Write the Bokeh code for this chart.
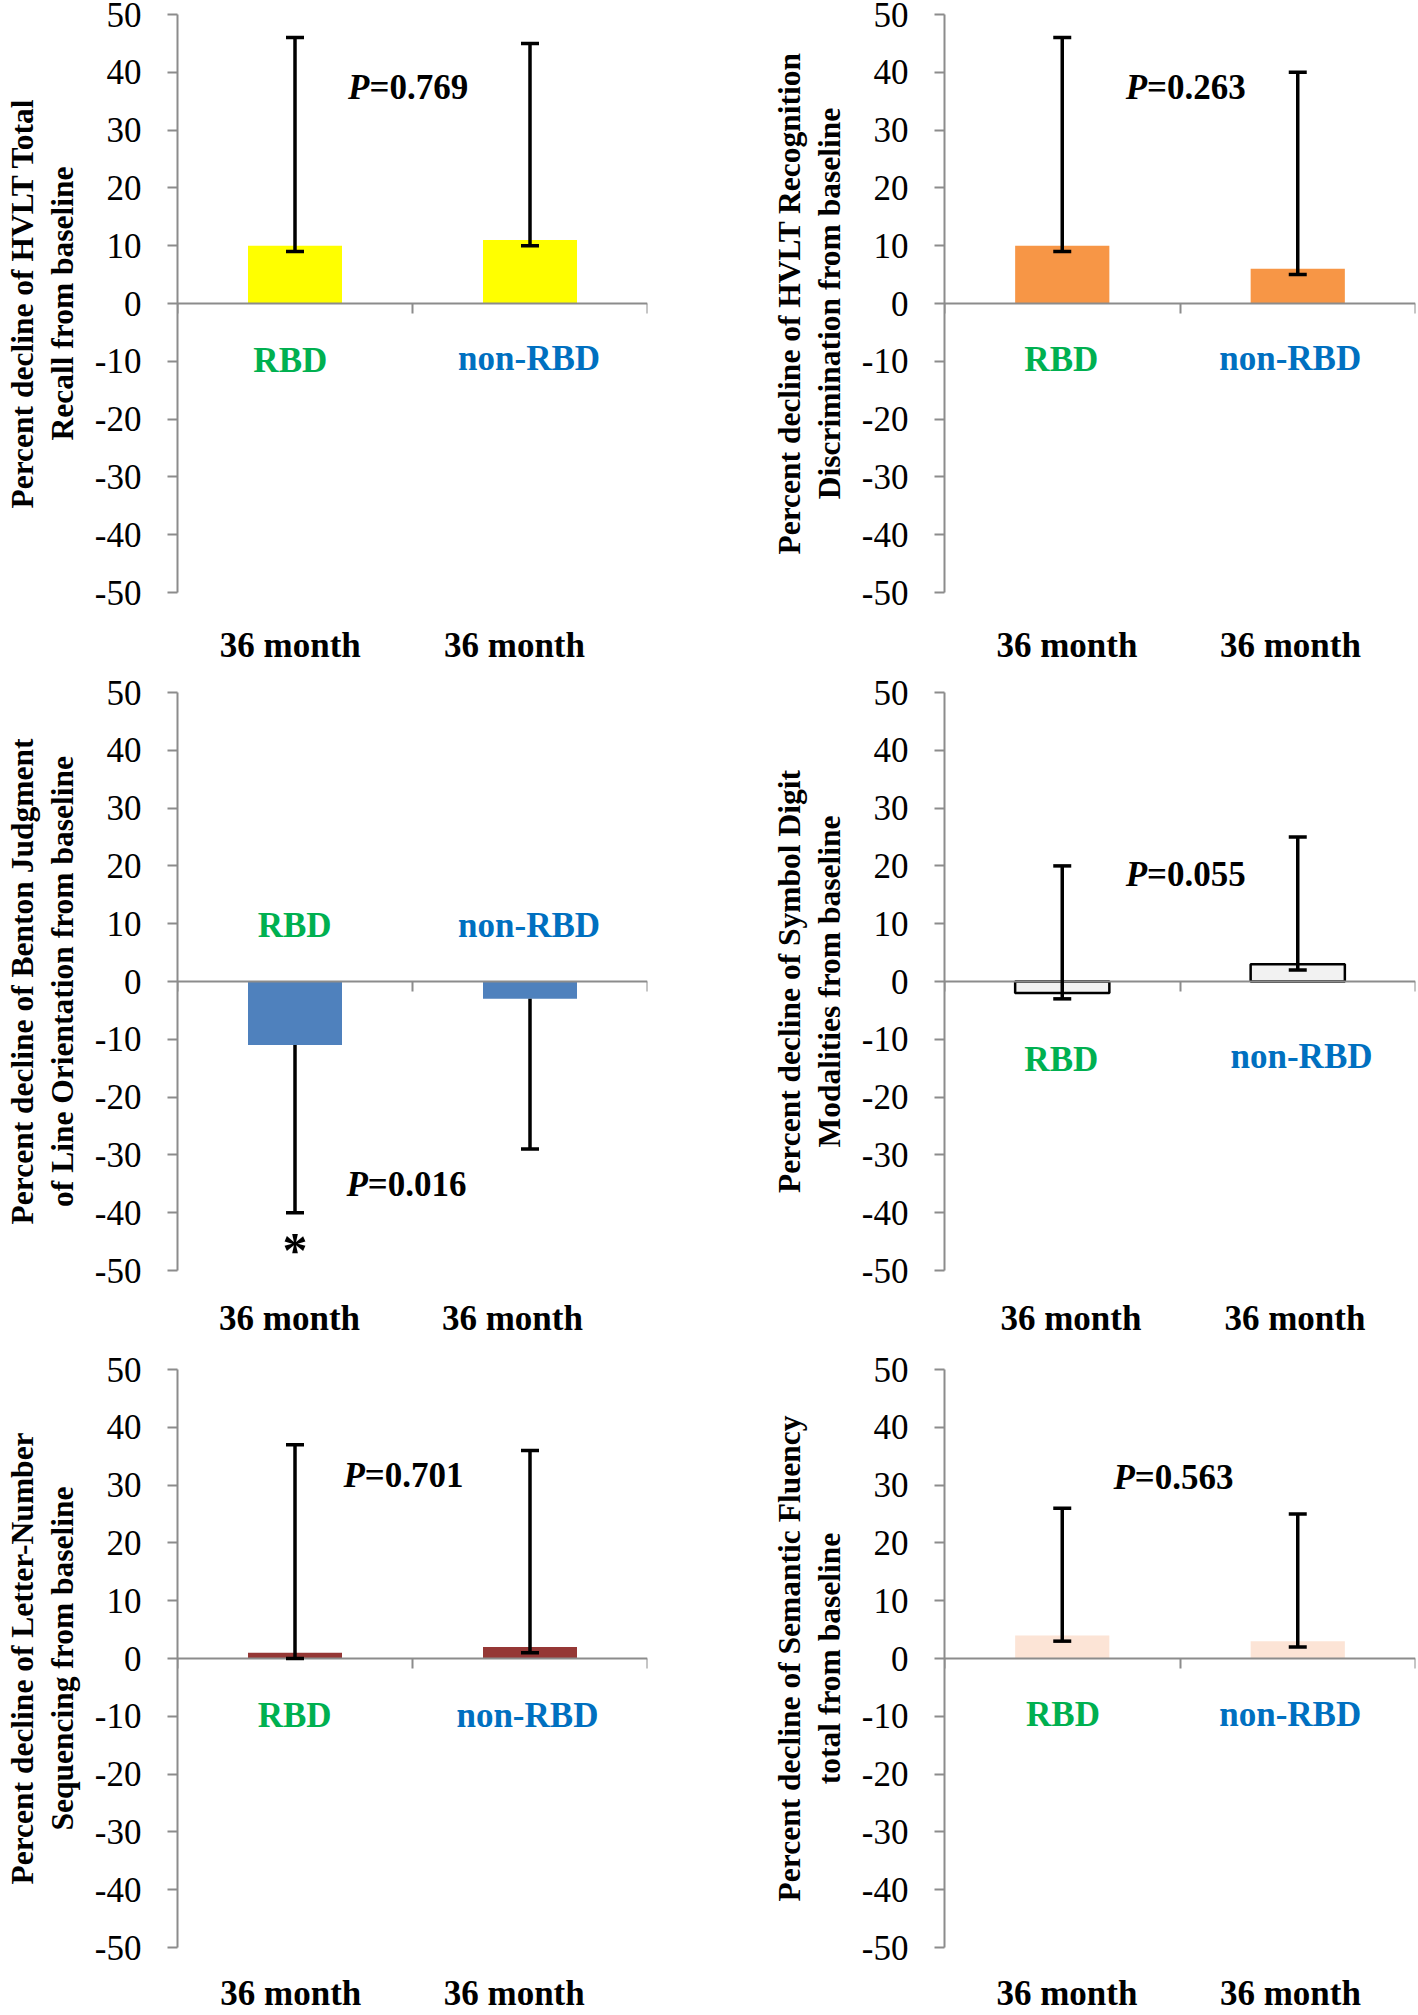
from bokeh.plotting import figure
from bokeh.models import (Range1d, LinearAxis, FixedTicker, Whisker, TeeHead,
                          ColumnDataSource)
from bokeh.layouts import column, row
from bokeh.embed import file_html
from bokeh.resources import INLINE
from bokeh.core.properties import value

# ---------------- data ----------------
groups = ["RBD", "non-RBD"]
x_labels = ["36 month", "36 month"]
y_ticks = [-50, -40, -30, -20, -10, 0, 10, 20, 30, 40, 50]
y_tick_labels = ["-50", "-40", "-30", "-20", "-10", "0", "10", "20", "30", "40", "50"]

titles = [
    "Percent decline of HVLT Total\nRecall from baseline",
    "Percent decline of HVLT Recognition\nDiscrimination from baseline",
    "Percent decline of Benton Judgment\nof Line Orientation from baseline",
    "Percent decline of Symbol Digit\nModalities from baseline",
    "Percent decline of Letter-Number\nSequencing from baseline",
    "Percent decline of Semantic Fluency\ntotal from baseline",
]
hvlt_total = [10, 11]
hvlt_recog = [10, 6]
benton = [-11, -3]
symbol_digit = [-2, 3]
letter_number = [1, 2]
semantic = [4, 3]
means = [hvlt_total, hvlt_recog, benton, symbol_digit, letter_number, semantic]

err_lower = [[9, 10], [9, 5], [-40, -29], [-3, 2], [0, 1], [3, 2]]
err_upper = [[46, 45], [46, 40], [-11, -3], [20, 25], [37, 36], [26, 25]]
p_values = ["0.769", "0.263", "0.016", "0.055", "0.701", "0.563"]
significant = [False, False, True, False, False, False]

# ---------------- styles / positions ----------------
SERIF = "Liberation Serif"
AXIS_GRAY = "#8C8C8C"
bar_fill = ["#FFFF00", "#F79646", "#4F81BD", "#F2F2F2", "#953735", "#FCE4D6"]
bar_line = [None, None, None, "black", None, None]
upper_cap = [True, True, False, True, True, True]
group_colors = ["#00B050", "#0070C0"]

group_lab_x = [[0.48, 1.496], [0.496, 1.468], [0.4985, 1.496], [0.496, 1.516], [0.4985, 1.489], [0.503, 1.468]]
group_lab_y = [[-9.8, -9.6], [-9.75, -9.6], [9.7, 9.7], [-13.5, -13.0], [-9.9, -9.9], [-9.7, -9.7]]
p_anchor = [(0.817, 37.4), (0.86, 37.4), (0.81, -35.2), (0.86, 18.55), (0.797, 31.7), (0.808, 31.4)]
xlab_x = [[0.48, 1.434], [0.52, 1.469], [0.477, 1.425], [0.537, 1.488], [0.482, 1.433], [0.52, 1.469]]
xlab_standoff = [33, 33, 28, 28, 26, 26]

row_h = [667, 673, 675]
row_bt = [14, 25, 29]
row_bb = [74, 69, 67]


def make_panel(i):
    r, c = divmod(i, 2)
    if c == 0:
        width, bl, br = 709, 177, 62
    else:
        width, bl, br = 709, 235, 3
    p = figure(width=width, height=row_h[r], x_range=Range1d(0, 2),
               y_range=Range1d(-50, 50), output_backend="svg", toolbar_location=None,
               x_axis_location=None, y_axis_location="left",
               min_border_left=bl, min_border_right=br,
               min_border_top=row_bt[r], min_border_bottom=row_bb[r])
    p.grid.visible = False
    p.outline_line_color = None
    p.background_fill_color = "white"
    p.border_fill_color = "white"

    ya = p.yaxis[0]
    ya.ticker = FixedTicker(ticks=y_ticks)
    ya.major_label_overrides = dict(zip(y_ticks, y_tick_labels))
    ya.minor_tick_line_color = None
    ya.major_tick_out = 10
    ya.major_tick_in = 0
    ya.axis_line_color = AXIS_GRAY
    ya.axis_line_width = 2
    ya.major_tick_line_color = AXIS_GRAY
    ya.major_tick_line_width = 2
    ya.major_label_text_font = SERIF
    ya.major_label_text_font_size = "35px"
    ya.major_label_text_color = "black"
    ya.major_label_standoff = 26
    ya.axis_label = titles[i]
    ya.axis_label_text_font = SERIF
    ya.axis_label_text_font_style = "bold"
    ya.axis_label_text_font_size = "31.5px"
    ya.axis_label_text_color = "black"
    ya.axis_label_text_line_height = 1.15
    ya.axis_label_standoff = 12

    n = len(groups)
    # "36 month" category labels below the plot area
    lab_axis = LinearAxis(ticker=FixedTicker(ticks=xlab_x[i]),
                          major_label_overrides=dict(zip(xlab_x[i], x_labels)),
                          axis_line_color=None, major_tick_line_color=None,
                          minor_tick_line_color=None, major_tick_out=0, major_tick_in=0,
                          major_label_standoff=xlab_standoff[i],
                          major_label_text_font=SERIF, major_label_text_font_style="bold",
                          major_label_text_font_size="35px", major_label_text_color="black")
    p.add_layout(lab_axis, "below")

    # zero line with category-boundary ticks pointing down
    zero_axis = LinearAxis(fixed_location=0, ticker=FixedTicker(ticks=list(range(n + 1))),
                           major_label_overrides={k: "" for k in range(n + 1)},
                           major_label_text_font_size="1px",
                           major_tick_out=10, major_tick_in=0,
                           minor_tick_line_color=None,
                           axis_line_color=AXIS_GRAY, axis_line_width=2,
                           major_tick_line_color=AXIS_GRAY, major_tick_line_width=2)
    p.add_layout(zero_axis, "below")

    xs = [k + 0.5 for k in range(n)]
    p.vbar(x=xs, top=means[i], bottom=0, width=0.4,
           fill_color=bar_fill[i], line_color=bar_line[i],
           line_width=2.5 if bar_line[i] else 0)

    src = ColumnDataSource(dict(x=xs, lower=err_lower[i], upper=err_upper[i]))
    w = Whisker(base="x", lower="lower", upper="upper", source=src,
                line_color="black", line_width=3.5, level="annotation",
                lower_head=TeeHead(size=18, line_color="black", line_width=3.5),
                upper_head=TeeHead(size=18, line_color="black", line_width=3.5) if upper_cap[i] else None)
    p.add_layout(w)

    p.text(x=group_lab_x[i], y=group_lab_y[i], text=groups, text_color=group_colors,
           text_font=value(SERIF), text_font_style="bold", text_font_size="35px",
           text_align="center", text_baseline="middle")

    px, py = p_anchor[i]
    p.text(x=[px], y=[py], text=["P"], text_font=value(SERIF), text_font_style="bold italic",
           text_font_size="35px", text_align="right", text_baseline="middle", text_color="black")
    p.text(x=[px], y=[py], text=["=" + p_values[i]], text_font=value(SERIF),
           text_font_style="bold", text_font_size="35px", text_align="left",
           text_baseline="middle", text_color="black")

    if significant[i]:
        p.text(x=[xs[0]], y=[-46.5], text=["*"], text_font=value(SERIF), text_font_style="bold",
               text_font_size="50px", text_align="center", text_baseline="middle",
               text_color="black")
    return p


panels = [make_panel(i) for i in range(6)]
layout = column(row(panels[0], panels[1]), row(panels[2], panels[3]), row(panels[4], panels[5]))

open("out.html", "w").write(file_html(layout, INLINE))
